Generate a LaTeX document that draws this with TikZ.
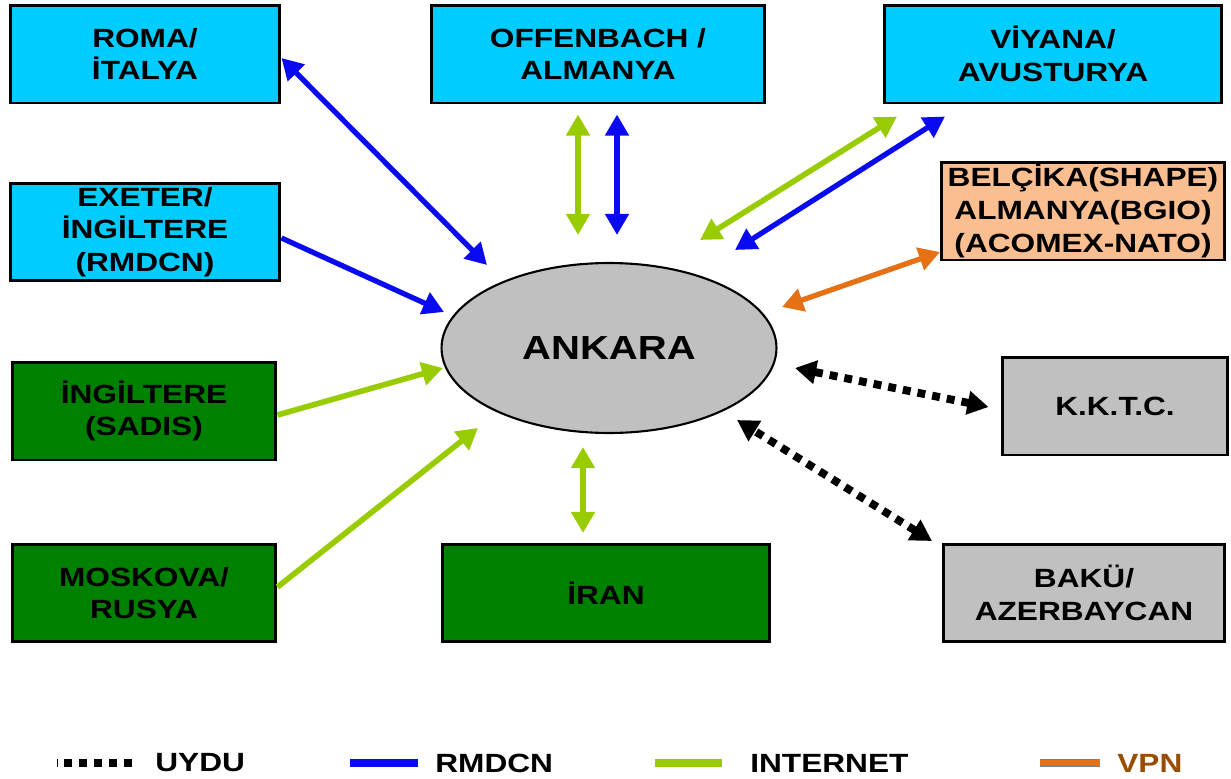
\documentclass[tikz,border=0pt]{standalone}
\usepackage{fontspec}
\setmainfont{Liberation Sans}[FakeStretch=1.2]
\usepackage{tikz}
\usetikzlibrary{positioning,calc,shapes.geometric,arrows.meta}
\definecolor{boxcyan}{RGB}{0,204,255}
\definecolor{boxgreen}{RGB}{0,128,0}
\definecolor{boxgrey}{RGB}{192,192,192}
\definecolor{boxpeach}{RGB}{250,190,145}
\definecolor{rmdcnblue}{RGB}{10,10,240}
\definecolor{netgreen}{RGB}{153,204,0}
\definecolor{vpnorange}{RGB}{230,112,20}
\definecolor{vpnbrown}{RGB}{153,77,0}

\begin{document}
\begin{tikzpicture}[x=0.02cm,y=-0.02cm,
	>={Triangle[length=12pt,width=13pt]},
	box/.style={draw=black,line width=1.7pt,align=center,inner sep=0pt,minimum height=1.96cm,font=\bfseries\fontsize{15}{18.6}\selectfont},
	cyanbox/.style={box,fill=boxcyan},
	greenbox/.style={box,fill=boxgreen},
	greybox/.style={box,fill=boxgrey},
	peachbox/.style={box,fill=boxpeach},
	rmdcn/.style={draw=rmdcnblue,line width=3pt},
	inet/.style={draw=netgreen,line width=3.2pt},
	vpn/.style={draw=vpnorange,line width=3pt},
	uydu/.style={draw=black,line width=4.5pt,dash pattern=on 4.5pt off 4pt},
	legend/.style={anchor=west,inner sep=0pt,font=\bfseries\fontsize{15}{18}\selectfont}]
		\useasboundingbox (0,0) rectangle (1231,778);
		\node[cyanbox,minimum width=5.4cm] (roma) at (145,54) {ROMA/\\İTALYA};
		\node[cyanbox,minimum width=6.66cm] (offenbach) at (598,54) {OFFENBACH /\\ALMANYA};
		\node[cyanbox,minimum width=6.74cm] (viyana) at (1053,54) {VİYANA/\\AVUSTURYA};
		\node[cyanbox,minimum width=5.4cm,minimum height=1.94cm] (exeter) at (145,232) {EXETER/\\İNGİLTERE\\(RMDCN)};
		\node[peachbox,minimum width=5.66cm] (belcika) at (1083,211) {BELÇİKA(SHAPE)\\ALMANYA(BGIO)\\(ACOMEX-NATO)};
		\node[greenbox,minimum width=5.28cm] (sadis) at (144,411) {İNGİLTERE\\(SADIS)};
		\node[greybox,minimum width=4.52cm] (kktc) at (1115,406) {K.K.T.C.};
		\node[greenbox,minimum width=5.28cm,minimum height=1.94cm] (moskova) at (144,593) {MOSKOVA/\\RUSYA};
		\node[greenbox,minimum width=6.56cm,minimum height=1.94cm] (iran) at (606,593) {İRAN};
		\node[greybox,minimum width=5.62cm,minimum height=1.94cm] (baku) at (1084,593) {BAKÜ/\\AZERBAYCAN};
		\node[ellipse,draw=black,line width=1.2pt,fill=boxgrey,minimum width=6.7cm,minimum height=3.4cm,font=\bfseries\fontsize{19}{23}\selectfont] (ankara) at (609,348) {ANKARA};

		\draw[rmdcn,<->] ($(roma.east)+(0,4)$) -- ($(ankara)+(-122,-83)$);
		\draw[rmdcn,->] ($(exeter.east)+(0,6)$) -- ($(ankara)+(-165,-36)$);
		\draw[inet,->] ($(sadis.east)+(0,4)$) -- ($(ankara)+(-166,20)$);
		\draw[inet,->] ($(moskova.east)+(0,-6)$) -- ($(ankara)+(-131,80)$);
		\draw[inet,<->] ($(offenbach.south)+(-20,10)$) -- ($(ankara)+(-31,-113)$);
		\draw[rmdcn,<->] ($(offenbach.south)+(19,10)$) -- ($(ankara)+(8,-113)$);
		\draw[inet,<->] ($(viyana.south)+(-156,12)$) -- ($(ankara)+(91,-108)$);
		\draw[rmdcn,<->] ($(viyana.south)+(-108,12)$) -- ($(ankara)+(126,-98)$);
		\draw[vpn,<->] ($(belcika.west)+(0,41)$) -- ($(ankara)+(173,-41)$);
		\draw[inet,<->] ($(iran.north)+(-23,-10)$) -- ($(ankara)+(-26,99)$);
		\draw[uydu,<->] ($(kktc.west)+(-12,1)$) -- ($(ankara)+(186,20)$);
		\draw[uydu,<->] ($(baku.north)+(-152,-2)$) -- ($(ankara)+(128,72)$);

		\node[legend] (luydu) at (155,763) {UYDU};
		\node[legend] (lrmdcn) at (435,763) {RMDCN};
		\node[legend] (linet) at (750,763) {INTERNET};
		\node[legend,text=vpnbrown] (lvpn) at (1117,763) {VPN};
		\draw[uydu] ($(luydu.west)+(-23,0)$) -- ++(-75,0);
		\draw[rmdcn,line width=4pt] ($(lrmdcn.west)+(-17,0)$) -- ++(-68,0);
		\draw[inet,line width=4pt] ($(linet.west)+(-28,0)$) -- ++(-67,0);
		\draw[draw=gray,double=vpnorange,double distance=3pt,line width=0.6pt] ($(lvpn.west)+(-17,0)$) -- ++(-60,0);
	\end{tikzpicture}
\end{document}
